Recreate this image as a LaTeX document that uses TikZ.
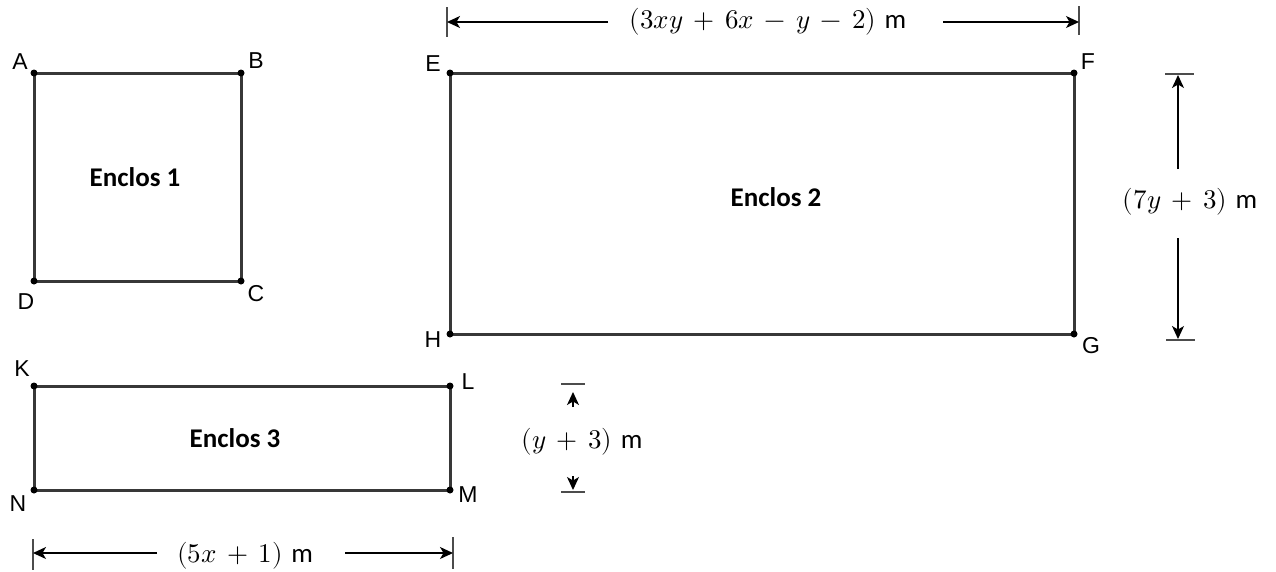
\documentclass[tikz,border=0pt]{standalone}
\usepackage{fontspec}
\setmainfont{Liberation Sans}
\newfontfamily\calfont{Carlito}
\usepackage{unicode-math}
\setmathfont{Latin Modern Math}
\usetikzlibrary{arrows.meta}
\newcommand{\meas}[1]{$\medmuskip=7mu #1$\hspace{0.32em}{\calfont m}}
\begin{document}
\begin{tikzpicture}[x=1pt,y=-1pt,
  wall/.style={draw=black!78,line width=3pt},
  dot/.style={circle,fill=black,inner sep=0pt,minimum size=7pt},
  corner/.style={font=\fontsize{23}{23}\selectfont,inner sep=0pt},
  title/.style={font=\calfont\bfseries\fontsize{27}{27}\selectfont},
  dimtext/.style={font=\fontsize{27}{27}\selectfont,inner sep=0pt},
  dim/.style={line width=1.3pt,-{Stealth[length=13pt,width=12pt,inset=3.5pt]}},
  tick/.style={line width=2pt,draw=black!70}]
\useasboundingbox (0,0) rectangle (1276,571);
% Enclos 1
\coordinate (A) at (34,73); \coordinate (B) at (241,73);
\coordinate (C) at (241,281); \coordinate (D) at (34,281);
\draw[wall] (A) -- (B) -- (C) -- (D) -- cycle;
\foreach \p in {A,B,C,D} \node[dot] at (\p) {};
\node[corner] (lA) at (20,62) {A};
\node[corner] (lB) at (256,61) {B};
\node[corner] (lC) at (256,294) {C};
\node[corner] (lD) at (26,302) {D};
\node[title] (t1) at (135,177) {Enclos 1};
% Enclos 2
\coordinate (E) at (450,73); \coordinate (F) at (1074,73);
\coordinate (G) at (1074,334); \coordinate (H) at (450,334);
\draw[wall] (E) -- (F) -- (G) -- (H) -- cycle;
\foreach \p in {E,F,G,H} \node[dot] at (\p) {};
\node[corner] (lE) at (433,64) {E};
\node[corner] (lF) at (1088,62) {F};
\node[corner] (lG) at (1091,346) {G};
\node[corner] (lH) at (433,340) {H};
\node[title] (t2) at (776,197) {Enclos 2};
% Enclos 3
\coordinate (K) at (34,386); \coordinate (L) at (450,386);
\coordinate (M) at (450,490); \coordinate (N) at (34,490);
\draw[wall] (K) -- (L) -- (M) -- (N) -- cycle;
\foreach \p in {K,L,M,N} \node[dot] at (\p) {};
\node[corner] (lK) at (22,369) {K};
\node[corner] (lL) at (468,382) {L};
\node[corner] (lM) at (468,495) {M};
\node[corner] (lN) at (18,504) {N};
\node[title] (t3) at (235,438) {Enclos 3};
% top dimension
\coordinate (tl1) at (447,7); \coordinate (tl2) at (447,37);
\coordinate (tr1) at (1079,6); \coordinate (tr2) at (1079,35);
\draw[tick] (tl1) -- (tl2);
\draw[tick] (tr1) -- (tr2);
\coordinate (ta) at (447,22); \coordinate (tb) at (1079,22);
\node[dimtext] (d1) at (768,22) {\meas{(3xy+6x-y-2)}};
\draw[dim] (608,22) -- (ta);
\draw[dim] (943,22) -- (tb);
% right dimension
\coordinate (r1a) at (1165,74); \coordinate (r1b) at (1194,74);
\coordinate (r2a) at (1166,340); \coordinate (r2b) at (1195,340);
\draw[tick] (r1a) -- (r1b);
\draw[tick] (r2a) -- (r2b);
\coordinate (ra) at (1178,75); \coordinate (rb) at (1178,339);
\node[dimtext] (d2) at (1190,202) {\meas{(7y+3)}};
\draw[dim] (1178,169) -- (ra);
\draw[dim] (1178,238) -- (rb);
% middle dimension
\coordinate (m1a) at (561,384); \coordinate (m1b) at (585,384);
\coordinate (m2a) at (561,492); \coordinate (m2b) at (585,492);
\draw[tick] (m1a) -- (m1b);
\draw[tick] (m2a) -- (m2b);
\coordinate (ma) at (573,392); \coordinate (mb) at (573,490);
\node[dimtext] (d3) at (582,442) {\meas{(y+3)}};
\draw[dim] (573,407) -- (ma);
\draw[dim] (573,476) -- (mb);
% bottom dimension
\coordinate (bl1) at (33,539); \coordinate (bl2) at (33,570);
\coordinate (br1) at (453,537); \coordinate (br2) at (453,569);
\draw[tick] (bl1) -- (bl2);
\draw[tick] (br1) -- (br2);
\coordinate (ba) at (33,553); \coordinate (bb) at (453,553);
\node[dimtext] (d4) at (245,556) {\meas{(5x+1)}};
\draw[dim] (157,553) -- (ba);
\draw[dim] (345,553) -- (bb);
\end{tikzpicture}
\end{document}
